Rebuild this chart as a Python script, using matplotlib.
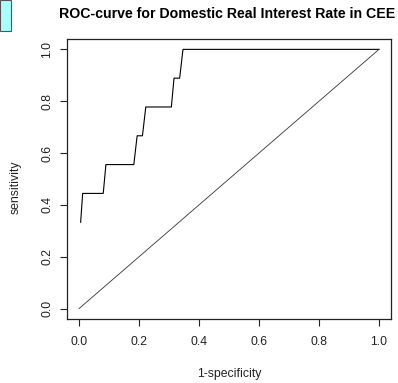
import matplotlib
matplotlib.use("Agg")
import matplotlib.pyplot as plt
from matplotlib.patches import Rectangle

plt.rcParams['font.family'] = ['Liberation Sans', 'DejaVu Sans']

# ROC curve coordinates (false positive rate, true positive rate)
fpr = [0.0055, 0.0122, 0.0808, 0.0897, 0.1827, 0.1938, 0.2115, 0.2226,
       0.3079, 0.3167, 0.3355, 0.3466, 1.0]
tpr = [0.3333, 0.4444, 0.4444, 0.5556, 0.5556, 0.6667, 0.6667, 0.7778,
       0.7778, 0.8889, 0.8889, 1.0, 1.0]
diag = [0.0, 1.0]
ticks = [0.0, 0.2, 0.4, 0.6, 0.8, 1.0]
tick_labels = ["0.0", "0.2", "0.4", "0.6", "0.8", "1.0"]

W, H = 398, 383
fig = plt.figure(figsize=(W / 100, H / 100), dpi=100)

# small highlight box in the top-left corner
fig.patches.append(Rectangle((0, 1 - 31 / H), 11 / W, 31 / H, transform=fig.transFigure,
                             facecolor="#a8ffff", edgecolor="#555555", linewidth=0.8))

l, r, t, b = 67, 391, 39, 319
ax = fig.add_axes([l / W, 1 - b / H, (r - l) / W, (b - t) / H])

ax.plot(fpr, tpr, color="black", linewidth=0.8)
ax.plot(diag, diag, color="#333333", linewidth=0.6)

ax.set_xlim(-0.04, 1.04)
ax.set_ylim(-0.04, 1.04)
ax.set_xticks(ticks)
ax.set_xticklabels(tick_labels)
ax.set_yticks(ticks)
ax.set_yticklabels(tick_labels, rotation=90, va="center")
ax.tick_params(axis="both", direction="out", length=5, width=0.8, labelsize=8.8,
               colors="#222222", labelcolor="#222222")
ax.tick_params(axis="x", pad=7)
ax.tick_params(axis="y", pad=5)
for s in ax.spines.values():
    s.set_linewidth(0.9)
    s.set_color("#222222")

ax.set_xlabel("1-specificity", fontsize=8.8, color="#222222")
ax.xaxis.set_label_coords(0.5, -0.175)
ax.set_ylabel("sensitivity", fontsize=8.8, color="#222222")
ax.yaxis.set_label_coords(-0.139, 0.47)

fig.text(59 / W, 1 - 14 / H, "ROC-curve for Domestic Real Interest Rate in CEE",
         fontsize=10.2, fontweight="bold", ha="left", va="center")

fig.savefig("out.png", dpi=100)
